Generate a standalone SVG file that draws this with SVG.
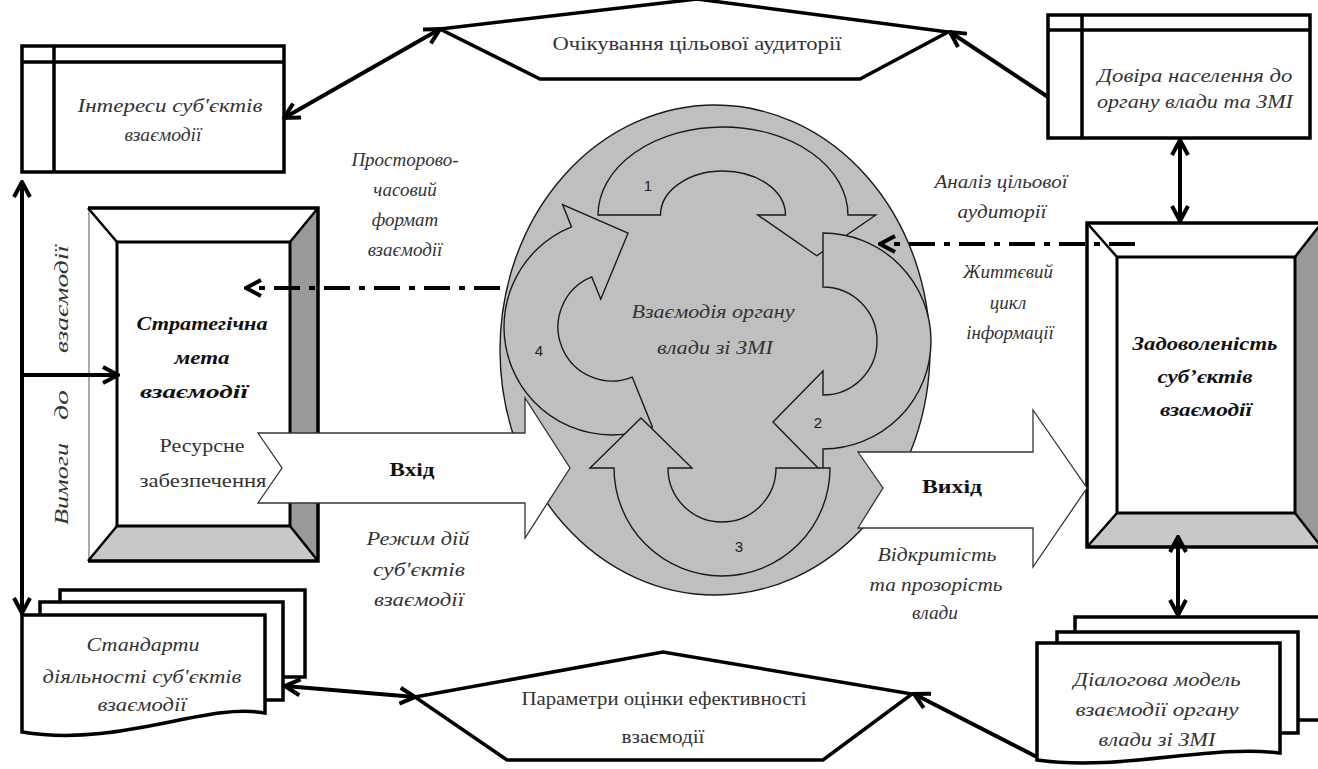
<svg xmlns="http://www.w3.org/2000/svg" width="1318" height="769" viewBox="0 0 1318 769" font-family="Liberation Serif, Times New Roman, serif">
<defs>
<marker id="ah" viewBox="0 0 20 20" refX="18" refY="10" markerWidth="20" markerHeight="20" markerUnits="userSpaceOnUse" orient="auto-start-reverse">
<path d="M3,2 L18,10 L3,18" fill="none" stroke="#000" stroke-width="4"/>
</marker>
</defs>
<style>
text{font-family:"Liberation Serif","Times New Roman",serif}
.t{font-size:19px;fill:#333;text-anchor:middle}
.i{font-style:italic}
.b{font-weight:bold;fill:#111}
.n{font-family:"Liberation Sans",Arial,sans-serif;font-size:15px;fill:#222;text-anchor:middle}
.box{fill:#fff;stroke:#000;stroke-width:3.5}
.ln{stroke:#000;stroke-width:3.5;fill:none}
.dg{stroke:#000;stroke-width:2.5;fill:none}
.con{stroke:#000;stroke-width:4;fill:none;marker-end:url(#ah)}
.dbl{marker-start:url(#ah)}
.dd{stroke:#000;stroke-width:4;fill:none;stroke-dasharray:26 9 6 9;marker-end:url(#ah)}
.ring{fill:#bfbfbf;stroke:#1a1a1a;stroke-width:1.4}
.blk{fill:#fff;stroke:#333;stroke-width:1.3}
.dark{fill:#999}
.light{fill:#c8c8c8}
</style>

<g id="interests">
<rect x="22" y="46" width="262" height="126" class="box"/>
<line x1="22" y1="62" x2="284" y2="62" class="ln"/>
<line x1="54" y1="46" x2="54" y2="172" class="ln"/>
<text x="170" y="112" class="t i" textLength="185" lengthAdjust="spacingAndGlyphs">Інтереси суб'єктів</text>
<text x="163" y="141" class="t i" textLength="77" lengthAdjust="spacingAndGlyphs">взаємодії</text>
</g>

<g id="expectations">
<polygon points="440,29 697,-1 948,32 860,79 540,79" class="box"/>
<text x="697" y="50" class="t" textLength="289" lengthAdjust="spacingAndGlyphs">Очікування цільової аудиторії</text>
</g>

<g id="trust">
<rect x="1048" y="15" width="262" height="123" class="box"/>
<line x1="1048" y1="30" x2="1310" y2="30" class="ln"/>
<line x1="1082" y1="15" x2="1082" y2="138" class="ln"/>
<text x="1195" y="82" class="t i" textLength="195" lengthAdjust="spacingAndGlyphs">Довіра населення до</text>
<text x="1195" y="108" class="t i" textLength="196" lengthAdjust="spacingAndGlyphs">органу влади та ЗМІ</text>
</g>

<g id="goal">
<rect x="88" y="208" width="230" height="353" fill="#fff"/>
<polygon points="318,208 318,561 290,526 290,242" class="dark"/>
<polygon points="88,561 318,561 290,526 117,526" class="light"/>
<rect x="117" y="242" width="173" height="284" fill="#fff" stroke="#000" stroke-width="3"/>
<line x1="89" y1="208" x2="89" y2="561" stroke="#aaa" stroke-width="2"/>
<polyline points="88,208 318,208 318,561 88,561" class="ln"/>
<line x1="88" y1="208" x2="117" y2="242" class="dg"/>
<line x1="318" y1="208" x2="290" y2="242" class="dg"/>
<line x1="318" y1="561" x2="290" y2="526" class="dg"/>
<line x1="88" y1="561" x2="117" y2="526" class="dg"/>
<text x="202" y="330" class="t i b" font-size="20" textLength="131" lengthAdjust="spacingAndGlyphs">Стратегічна</text>
<text x="202" y="364" class="t i b" font-size="20" textLength="55" lengthAdjust="spacingAndGlyphs">мета</text>
<text x="194" y="398" class="t i b" font-size="20" textLength="108" lengthAdjust="spacingAndGlyphs">взаємодії</text>
<text x="202" y="452" class="t" textLength="85" lengthAdjust="spacingAndGlyphs">Ресурсне</text>
<text x="203" y="487" class="t" textLength="127" lengthAdjust="spacingAndGlyphs">забезпечення</text>
</g>

<g id="satisfaction">
<rect x="1087" y="223" width="235" height="324" fill="#fff"/>
<polygon points="1322,223 1322,547 1295,513 1295,257" class="dark"/>
<polygon points="1087,547 1322,547 1295,513 1117,513" class="light"/>
<rect x="1117" y="257" width="178" height="256" fill="#fff" stroke="#000" stroke-width="3"/>
<rect x="1087" y="223" width="235" height="324" fill="none" stroke="#000" stroke-width="3.5"/>
<line x1="1087" y1="223" x2="1117" y2="257" class="dg"/>
<line x1="1320" y1="225" x2="1295" y2="257" class="dg"/>
<line x1="1320" y1="545" x2="1295" y2="513" class="dg"/>
<line x1="1087" y1="547" x2="1117" y2="513" class="dg"/>
<text x="1205" y="350" class="t i b" font-size="20" textLength="145" lengthAdjust="spacingAndGlyphs">Задоволеність</text>
<text x="1205" y="383" class="t i b" font-size="20" textLength="95" lengthAdjust="spacingAndGlyphs">суб’єктів</text>
<text x="1206" y="416" class="t i b" font-size="20" textLength="92" lengthAdjust="spacingAndGlyphs">взаємодії</text>
</g>

<g id="standards">
<rect x="60" y="590" width="245" height="87" class="box"/>
<rect x="40" y="602" width="243" height="98" class="box"/>
<path d="M22,615 H265 V713 C205,702 120,748 22,732 Z" class="box"/>
<text x="143" y="651" class="t i" textLength="113" lengthAdjust="spacingAndGlyphs">Стандарти</text>
<text x="142" y="683" class="t i" textLength="199" lengthAdjust="spacingAndGlyphs">діяльності суб'єктів</text>
<text x="142" y="711" class="t i" textLength="89" lengthAdjust="spacingAndGlyphs">взаємодії</text>
</g>

<g id="params">
<polygon points="415,697 663,652 912,694 823,760 507,760" class="box"/>
<text x="664" y="705" class="t" textLength="285" lengthAdjust="spacingAndGlyphs">Параметри оцінки ефективності</text>
<text x="663" y="743" class="t" textLength="83" lengthAdjust="spacingAndGlyphs">взаємодії</text>
</g>

<g id="dialogue">
<rect x="1075" y="617" width="247" height="103" class="box"/>
<rect x="1057" y="632" width="241" height="101" class="box"/>
<path d="M1037,643 H1280 V753 C1210,744 1120,772 1037,760 Z" class="box"/>
<text x="1157" y="686" class="t i" textLength="167" lengthAdjust="spacingAndGlyphs">Діалогова модель</text>
<text x="1157" y="716" class="t i" textLength="163" lengthAdjust="spacingAndGlyphs">взаємодії органу</text>
<text x="1157" y="746" class="t i" textLength="117" lengthAdjust="spacingAndGlyphs">влади зі ЗМІ</text>
</g>

<g id="interaction">
<ellipse cx="715" cy="350" rx="215" ry="245" class="ring"/>
<path class="ring" vector-effect="non-scaling-stroke" transform="translate(723,215) scale(1.157,0.815)" d="M-108,0 A108,108 0 0 1 108,0 L132,0 L81,50 L30,0 L54,0 A54,54 0 0 0 -54,0 Z"/>
<path class="ring" transform="translate(823,341) rotate(90)" d="M-108,0 A108,108 0 0 1 108,0 L132,0 L81,50 L30,0 L54,0 A54,54 0 0 0 -54,0 Z"/>
<path class="ring" transform="translate(612,327) rotate(248)" d="M-108,0 A108,108 0 0 1 108,0 L132,0 L81,50 L30,0 L54,0 A54,54 0 0 0 -54,0 Z"/>
<path class="ring" transform="translate(722,468) rotate(180)" d="M-108,0 A108,108 0 0 1 108,0 L132,0 L81,50 L30,0 L54,0 A54,54 0 0 0 -54,0 Z"/>
<text x="713" y="318" class="t i" textLength="163" lengthAdjust="spacingAndGlyphs">Взаємодія органу</text>
<text x="715" y="354" class="t i" textLength="116" lengthAdjust="spacingAndGlyphs">влади зі ЗМІ</text>
<text x="648" y="191" class="n">1</text>
<text x="818" y="428" class="n">2</text>
<text x="739" y="552" class="n">3</text>
<text x="539" y="356" class="n">4</text>
</g>

<g id="input">
<polygon points="258,433 525,433 525,398 570,468 525,538 525,503 258,503 282,468" class="blk"/>
<text x="412" y="476" class="t b" font-size="22" textLength="45" lengthAdjust="spacingAndGlyphs">Вхід</text>
</g>

<g id="output">
<polygon points="858,452 1033,452 1033,410 1087,488 1033,567 1033,528 858,528 883,488" class="blk"/>
<text x="952" y="493" class="t b" font-size="22" textLength="60" lengthAdjust="spacingAndGlyphs">Вихід</text>
</g>

<g id="labels">
<text x="405" y="166" class="t i" font-size="18">Просторово-</text>
<text x="405" y="196" class="t i" font-size="18">часовий</text>
<text x="405" y="226" class="t i" font-size="18">формат</text>
<text x="405" y="256" class="t i" font-size="18">взаємодії</text>
<text x="1001" y="188" class="t i" textLength="133" lengthAdjust="spacingAndGlyphs">Аналіз цільової</text>
<text x="1002" y="218" class="t i" textLength="89" lengthAdjust="spacingAndGlyphs">аудиторії</text>
<text x="1008" y="278" class="t i" font-size="18">Життєвий</text>
<text x="1008" y="309" class="t i" font-size="18">цикл</text>
<text x="1010" y="339" class="t i" font-size="18">інформації</text>
<text x="418" y="545" class="t i" textLength="103" lengthAdjust="spacingAndGlyphs">Режим дій</text>
<text x="419" y="576" class="t i" textLength="92" lengthAdjust="spacingAndGlyphs">суб'єктів</text>
<text x="419" y="606" class="t i" textLength="90" lengthAdjust="spacingAndGlyphs">взаємодії</text>
<text x="937" y="561" class="t i" textLength="119" lengthAdjust="spacingAndGlyphs">Відкритість</text>
<text x="936" y="591" class="t i" textLength="133" lengthAdjust="spacingAndGlyphs">та прозорість</text>
<text x="935" y="619" class="t i" textLength="46" lengthAdjust="spacingAndGlyphs">влади</text>
<text transform="translate(68,299) rotate(-90)" class="t i" font-size="22" textLength="108" lengthAdjust="spacingAndGlyphs">взаємодії</text>
<text transform="translate(68,405) rotate(-90)" class="t i" font-size="22" textLength="30" lengthAdjust="spacingAndGlyphs">до</text>
<text transform="translate(68,484) rotate(-90)" class="t i" font-size="22" textLength="82" lengthAdjust="spacingAndGlyphs">Вимоги</text>
</g>

<g id="connectors">
<line x1="284" y1="118" x2="440" y2="29" class="con dbl"/>
<line x1="1048" y1="97" x2="950" y2="32" class="con"/>
<line x1="1180" y1="140" x2="1180" y2="221" class="con dbl"/>
<line x1="1178" y1="537" x2="1178" y2="615" class="con dbl"/>
<line x1="22" y1="182" x2="22" y2="613" class="con dbl"/>
<line x1="22" y1="375" x2="118" y2="375" class="con"/>
<line x1="285" y1="686" x2="415" y2="697" class="con dbl"/>
<line x1="1037" y1="757" x2="914" y2="694" class="con"/>
<line x1="500" y1="288" x2="246" y2="288" class="dd"/>
<line x1="1135" y1="244" x2="880" y2="244" class="dd"/>
</g>
</svg>
